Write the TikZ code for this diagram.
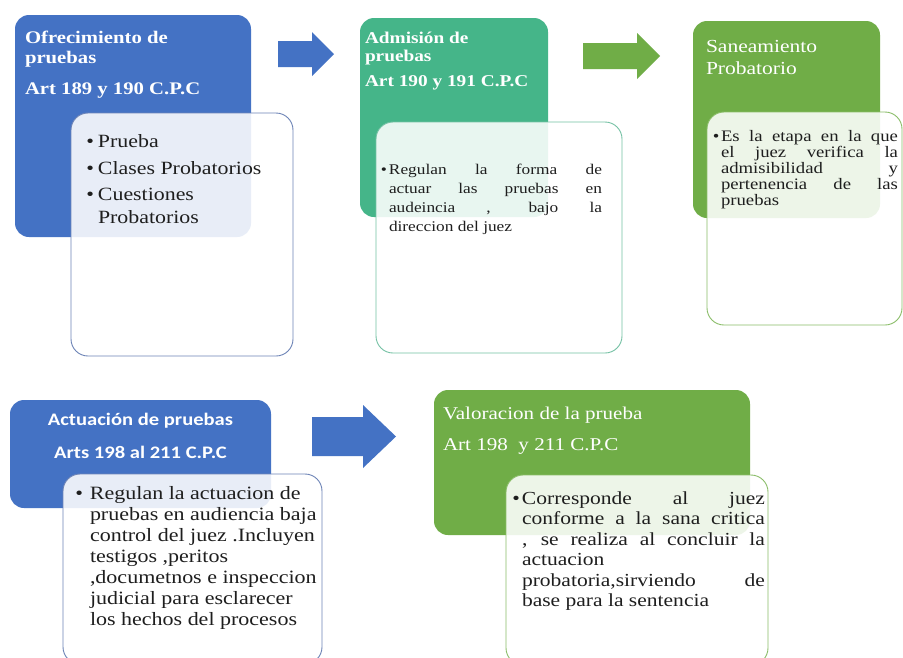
\documentclass[tikz,border=0pt]{standalone}
\usepackage{fontspec}
\setmainfont{Liberation Serif}[FakeStretch=1.17]
\newfontfamily\calibfont{Carlito}[FakeStretch=1.17]
\definecolor{cblue}{HTML}{4472C4}
\definecolor{cteal}{HTML}{45B589}
\definecolor{cgreen}{HTML}{70AD47}
\definecolor{bblue}{HTML}{6C83B6}
\definecolor{bteal}{HTML}{74C1A4}
\definecolor{bgreen}{HTML}{8ABD68}
\definecolor{ink}{HTML}{1E1E1E}
\newcommand\jl[1]{\leavevmode\makebox[\linewidth][s]{#1}}
\newcommand\bul[1]{\leavevmode\llap{\textbullet\hspace{#1}}}
\begin{document}
\begin{tikzpicture}[x=1pt,y=-1pt,
  hbox/.style={rounded corners=14pt, draw=none, anchor=north west, inner sep=0pt, outer sep=0pt},
  wbox/.style={rounded corners=17pt, fill=white, fill opacity=0.88, line width=0.9pt, anchor=north west, inner sep=0pt, outer sep=0pt},
  txt/.style={anchor=base west, inner sep=0pt, outer sep=0pt},
  htxt/.style={txt, text=white},
  btxt/.style={txt, text=ink},
]
\path[use as bounding box, clip] (0,0) rectangle (903,657);
\fill[white] (0,0) rectangle (903,657);

% --- group 1
\node[hbox, fill=cblue, minimum width=236pt, minimum height=222pt] (b1) at (15,15) {};
\node[wbox, draw=bblue, minimum width=222pt, minimum height=243pt] (w1) at (71,113) {};
\node[htxt] (h1) at (25,43) {\parbox[t]{230pt}{\fontsize{17.7}{20}\selectfont\bfseries
  Ofrecimiento de\\pruebas\\[11pt]Art 189 y 190 C.P.C}};
\node[btxt] (l1) at (98,147) {\parbox[t]{190pt}{\fontsize{18.7}{23.5}\selectfont
  \bul{4pt}Prueba\\[3.5pt]\bul{4pt}Clases Probatorios\\[2.5pt]\bul{4pt}Cuestiones\\Probatorios}};

% --- group 2
\node[hbox, fill=cteal, minimum width=188pt, minimum height=199pt] (b2) at (360,18) {};
\node[wbox, draw=bteal, minimum width=246pt, minimum height=231pt] (w2) at (376,122) {};
\node[htxt] (h2) at (365,43) {\parbox[t]{180pt}{\fontsize{16.5}{18}\selectfont\bfseries
  Admisión de\\pruebas\\[7pt]Art 190 y 191 C.P.C}};
\node[btxt] (l2) at (389,174) {\parbox[t]{213pt}{\fontsize{14.8}{19}\selectfont
  \bul{2pt}\jl{Regulan la forma de}\\\jl{actuar las pruebas en}\\\jl{audeincia , bajo la}\\direccion del juez}};

% --- group 3
\node[hbox, fill=cgreen, minimum width=187pt, minimum height=197pt] (b3) at (693,21) {};
\node[wbox, draw=bgreen, minimum width=195pt, minimum height=213pt] (w3) at (707,112) {};
\node[htxt] (h3) at (706,52) {\parbox[t]{170pt}{\fontsize{18.4}{22}\selectfont
  Saneamiento\\Probatorio}};
\node[btxt] (l3) at (721,141) {\parbox[t]{177pt}{\fontsize{16}{16}\selectfont
  \bul{1.5pt}\jl{Es la etapa en la que}\\\jl{el juez verifica la}\\\jl{admisibilidad y}\\\jl{pertenencia de las}\\pruebas}};

% --- group 4
\node[hbox, fill=cblue, minimum width=261pt, minimum height=108pt] (b4) at (10,400) {};
\node[wbox, draw=bblue, minimum width=259pt, minimum height=190pt] (w4) at (63,474) {};
\node[anchor=base, inner sep=0pt, text=white] (h4a) at (140.5,425) {\calibfont\bfseries\fontsize{17.6}{20}\selectfont Actuación de pruebas};
\node[anchor=base, inner sep=0pt, text=white] (h4b) at (140.5,458) {\calibfont\bfseries\fontsize{17.6}{20}\selectfont Arts 198 al 211 C.P.C};
\node[btxt] (l4) at (90,499) {\parbox[t]{240pt}{\fontsize{18.8}{21}\selectfont
  \bul{7pt}Regulan la actuacion de\\pruebas en audiencia baja\\control del juez .Incluyen\\testigos ,peritos\\,documetnos e inspeccion\\judicial para esclarecer\\los hechos del procesos}};

% --- group 5
\node[hbox, fill=cgreen, minimum width=316pt, minimum height=145pt] (b5) at (434,390) {};
\node[wbox, draw=bgreen, minimum width=262pt, minimum height=190pt] (w5) at (506,475) {};
\node[htxt] (h5) at (443,419) {\parbox[t]{300pt}{\fontsize{18}{31}\selectfont
  Valoracion de la prueba\\Art 198 \ y 211 C.P.C}};
\node[btxt] (l5) at (522,504) {\parbox[t]{243pt}{\fontsize{18.4}{20.5}\selectfont
  \bul{2pt}\jl{Corresponde al juez}\\\jl{conforme a la sana critica}\\\jl{, se realiza al concluir la}\\actuacion\\\jl{probatoria,sirviendo de}\\base para la sentencia}};

% --- block arrows
\fill[cblue] (278,41) -- (312,41) -- (312,32) -- (334,54) -- (312,76) -- (312,67) -- (278,67) -- cycle;
\fill[cgreen] (583,43) -- (637,43) -- (637,33) -- (660,56) -- (637,79) -- (637,69) -- (583,69) -- cycle;
\fill[cblue] (312,417) -- (363,417) -- (363,405) -- (396,436.5) -- (363,468) -- (363,456) -- (312,456) -- cycle;
\end{tikzpicture}
\end{document}
